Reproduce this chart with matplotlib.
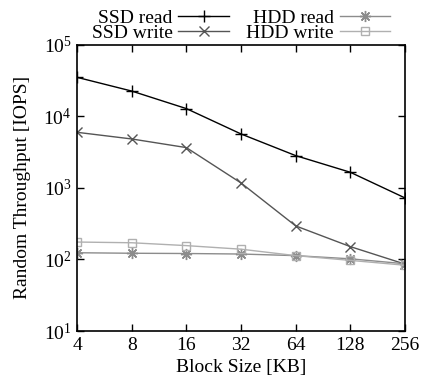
import matplotlib
matplotlib.use("Agg")
import matplotlib.pyplot as plt
from matplotlib.ticker import FixedLocator, FixedFormatter, NullLocator

plt.rcParams['font.family'] = ['Liberation Serif', 'DejaVu Serif']
plt.rcParams['mathtext.fontset'] = 'custom'
plt.rcParams['mathtext.rm'] = 'Liberation Serif'
plt.rcParams['mathtext.it'] = 'Liberation Serif:italic'

block_sizes = [4, 8, 16, 32, 64, 128, 256]
ssd_read = [35000, 22500, 12800, 5660, 2820, 1650, 723]
ssd_write = [5970, 4820, 3650, 1170, 294, 151, 86]
hdd_read = [124, 122, 121, 119, 113, 102, 87]
hdd_write = [175, 171, 156, 139, 113, 97, 83]

fs = 14

fig = plt.figure(figsize=(4.21, 3.79), dpi=100)
ax = fig.add_axes([0.183, 0.1266, 0.779, 0.7555])

ax.plot(block_sizes, ssd_read, color='black', lw=1.0, marker='+', ms=8, mew=1.0,
        label='SSD read')
ax.plot(block_sizes, ssd_write, color='#555555', lw=1.0, marker='x', ms=7, mew=1.0,
        label='SSD write')
ax.plot(block_sizes, hdd_read, color='#8c8c8c', lw=1.0, marker=(8, 2, 0), ms=8, mew=1.0,
        label='HDD read')
ax.plot(block_sizes, hdd_write, color='#b0b0b0', lw=1.0, marker='s', ms=6, mew=1.0,
        mfc='none', label='HDD write')

ax.set_xscale('log', base=2)
ax.set_yscale('log')
ax.set_xlim(4, 256)
ax.set_ylim(10, 1e5)
ax.xaxis.set_major_locator(FixedLocator(block_sizes))
ax.xaxis.set_major_formatter(FixedFormatter([str(b) for b in block_sizes]))
ax.xaxis.set_minor_locator(NullLocator())
ax.yaxis.set_minor_locator(NullLocator())

ax.tick_params(which='both', direction='in', top=True, right=True,
               length=5, width=1.0, labelsize=fs, pad=4)
for s in ax.spines.values():
    s.set_linewidth(1.2)

ax.set_xlabel('Block Size [KB]', fontsize=fs, labelpad=4)
ax.set_ylabel('Random Throughput [IOPS]', fontsize=fs, labelpad=9)

ax.legend(loc='lower center', bbox_to_anchor=(0.5, 1.01), ncol=2, frameon=False,
          markerfirst=False, fontsize=fs, handlelength=2.6, handletextpad=0.3,
          columnspacing=0.9, labelspacing=-0.15, borderpad=0, borderaxespad=0)

fig.savefig('out.png', dpi=100)
